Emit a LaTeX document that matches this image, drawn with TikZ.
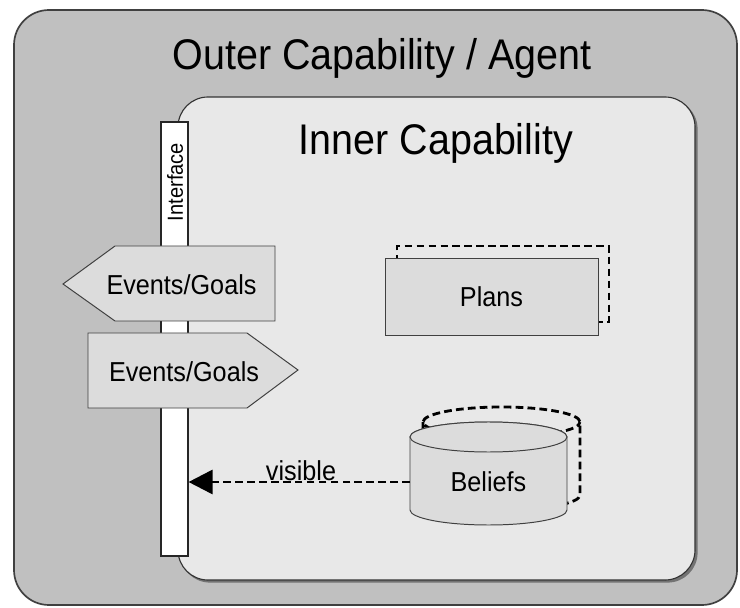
\documentclass[tikz,border=0pt]{standalone}
\usepackage{fontspec}
\setmainfont[FakeStretch=0.92]{Liberation Sans}
\usepackage{xcolor}
\usetikzlibrary{arrows.meta,positioning}
\definecolor{outergray}{HTML}{C0C0C0}
\definecolor{innergray}{HTML}{E8E8E8}
\definecolor{boxgray}{HTML}{DCDCDC}

\begin{document}
\begin{tikzpicture}[
  evbox/.style={draw=black!75,fill=boxgray,line width=0.7pt},
  dashedline/.style={draw=black,line width=2pt,dash pattern=on 5.5pt off 3pt},
  boxtext/.style={font=\fontsize{19.5}{22}\selectfont},
  titletext/.style={font=\fontsize{30.5}{34}\selectfont}]
\useasboundingbox (0,0) rectangle (18.5,15.175);
\draw[color=black!75,line width=1.2pt,fill=outergray,rounded corners=0.875cm] (0.35,0.05) rectangle (18.425,14.925);
\node[titletext] (outer) at (9.55,13.725) {Outer Capability / Agent};

\fill[color=black!55,rounded corners=0.75cm] (4.5,0.61) rectangle (17.44,12.7);
\draw[color=black!80,line width=0.8pt,fill=innergray,rounded corners=0.75cm] (4.45,0.675) rectangle (17.375,12.75);
\node[titletext] (inner) at (10.9,11.6) {Inner Capability};

\node[draw=black!85,fill=white,line width=0.8pt,minimum width=0.675cm,minimum height=10.85cm,inner sep=0pt] (interface) at (4.3625,6.7) {};
\node[rotate=90,font=\fontsize{15.5}{17}\selectfont] (iftext) at (4.375,10.625) {Interface};

\draw[evbox] (1.575,8.075) -- (2.875,9.025) -- (6.875,9.025) -- (6.875,7.15) -- (2.875,7.15) -- cycle;
\node[boxtext] (goalsout) at (4.5375,8.05) {Events/Goals};
\draw[evbox] (2.2,6.85) -- (6.175,6.85) -- (7.45,5.925) -- (6.175,4.975) -- (2.2,4.975) -- cycle;
\node[boxtext] (goalsin) at (4.6,5.875) {Events/Goals};

\draw[dashedline] (9.925,7.125) rectangle (15.225,9.025);
\node[evbox,boxtext,minimum width=5.325cm,minimum height=1.925cm] (plans) at (12.2875,7.7625) {Plans};

\draw[dashedline] (10.575,4.625) -- (10.575,2.8) arc[start angle=180,end angle=360,x radius=1.9625cm,y radius=0.375cm] -- (14.5,4.625) arc[start angle=0,end angle=360,x radius=1.9625cm,y radius=0.375cm];
\draw[evbox] (10.25,4.25) -- (10.25,2.425) arc[start angle=180,end angle=360,x radius=1.9625cm,y radius=0.375cm] -- (14.175,4.25) arc[start angle=0,end angle=180,x radius=1.9625cm,y radius=0.375cm] -- cycle;
\draw[evbox] (12.2125,4.25) ellipse [x radius=1.9625cm,y radius=0.375cm];
\node[boxtext] (beliefs) at (12.2125,3.125) {Beliefs};

\coordinate (beliefsw) at (10.25,3.125);
\draw[dashedline,-{Triangle[length=0.6cm,width=0.6cm]}] (beliefsw) -- (interface.east |- beliefsw);
\node[boxtext,anchor=base,inner sep=0pt] (visible) at (7.525,3.17) {visible};
\end{tikzpicture}
\end{document}
